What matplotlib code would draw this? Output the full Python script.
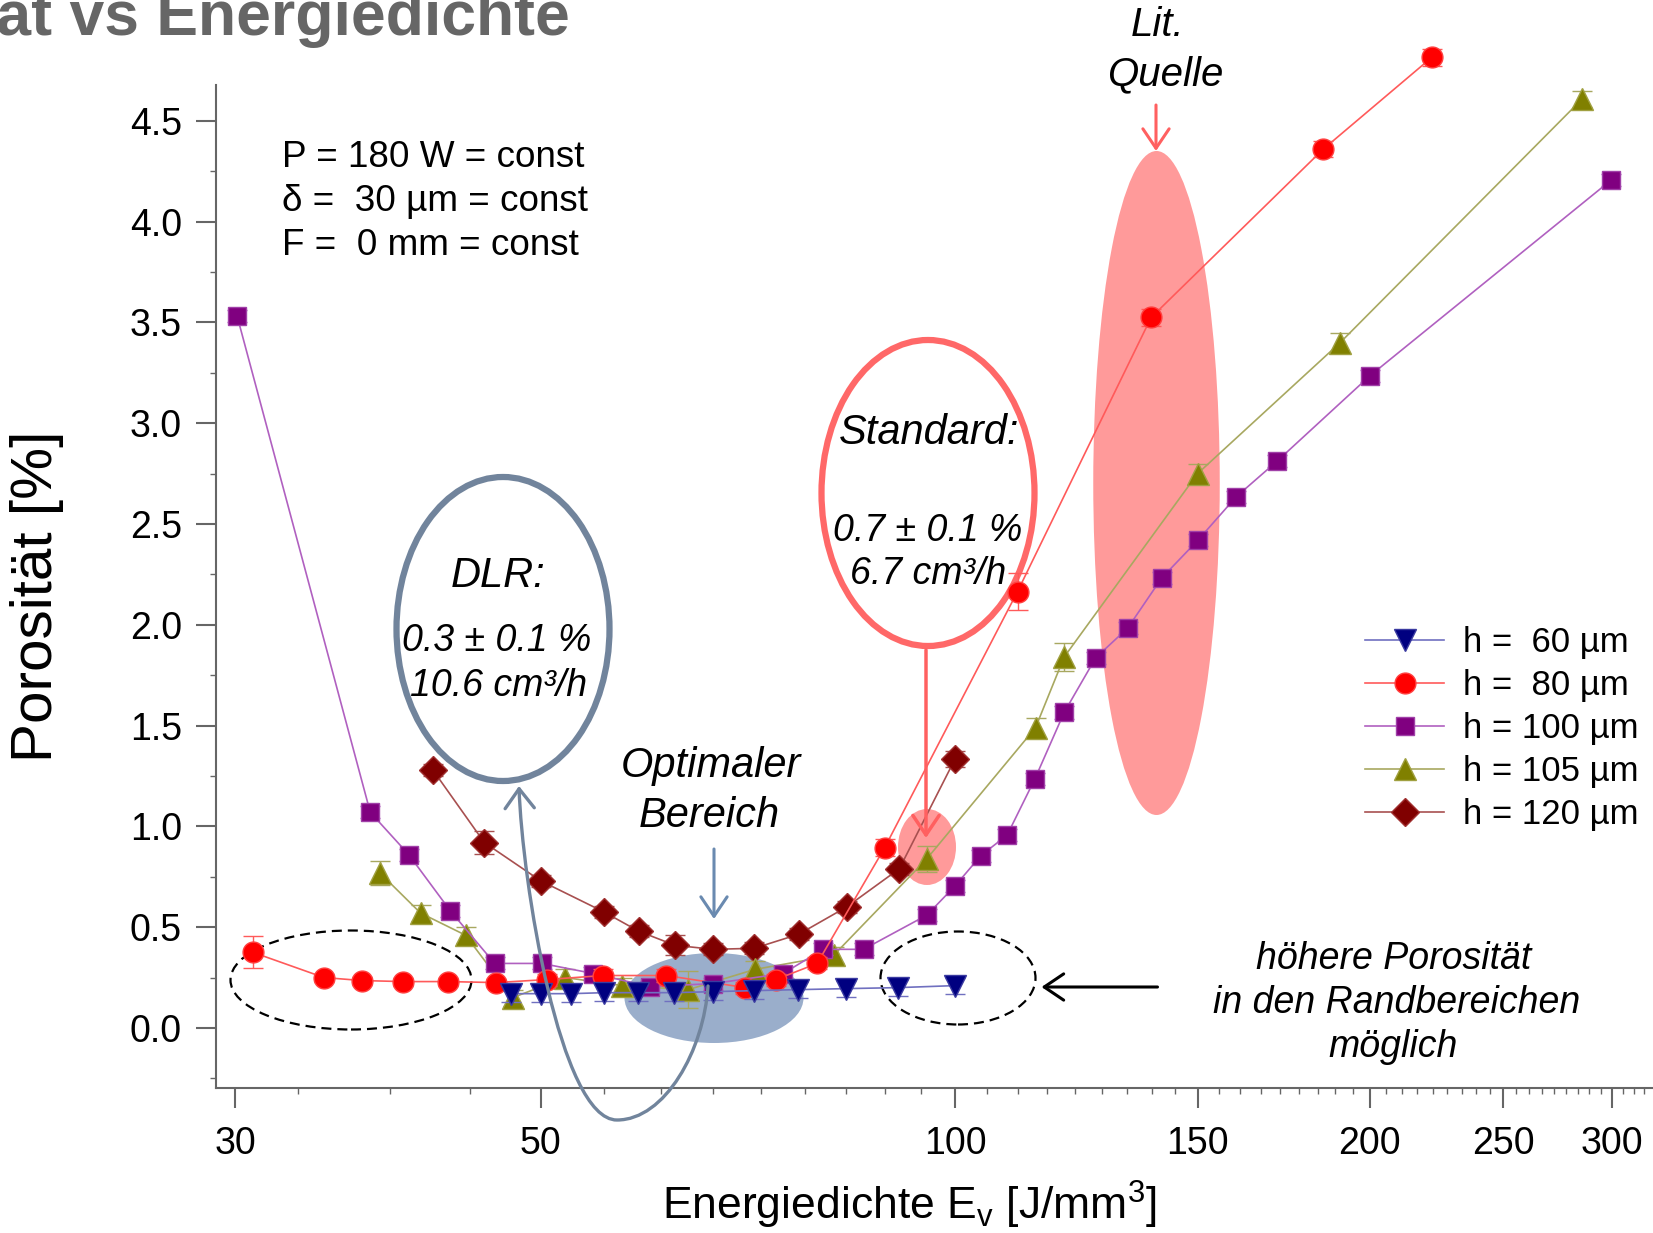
import numpy as np
import matplotlib
matplotlib.use('Agg')
import matplotlib.pyplot as plt
from matplotlib.patches import Ellipse, FancyArrowPatch
from matplotlib.path import Path
from matplotlib.ticker import FixedLocator, FixedFormatter, NullFormatter

FIG_W, FIG_H = 1653, 1233

# Energiedichte [J/mm^3] und Porositaet [%] je Spurabstand h
h60_E = [47.6, 50.0, 52.6, 55.6, 58.8, 62.5, 66.7, 71.4, 76.9, 83.3, 90.9, 100.0]
h60_P = [0.17, 0.17, 0.17, 0.175, 0.175, 0.175, 0.18, 0.185, 0.19, 0.195, 0.20, 0.21]
h60_err = [0.04] * 12

h80_E = [30.9, 34.8, 37.1, 39.7, 42.8, 46.4, 50.5, 55.5, 61.7, 70.4, 74.1, 79.4,
         88.9, 111.0, 138.8, 185.1, 221.9]
h80_P = [0.375, 0.25, 0.235, 0.23, 0.23, 0.225, 0.24, 0.26, 0.26, 0.20, 0.24, 0.32,
         0.895, 2.165, 3.525, 4.36, 4.815]
h80_err = [0.08, 0.02, 0.02, 0.02, 0.02, 0.02, 0.03, 0.03, 0.03, 0.03, 0.03, 0.03,
           0.04, 0.09, 0.04, 0.04, 0.04]

h100_E = [30.1, 37.6, 40.1, 43.0, 46.3, 50.1, 54.6, 60.0, 66.7, 75.0, 80.2, 85.8,
          95.4, 100.0, 104.4, 109.1, 114.3, 120.0, 126.5, 133.5, 141.3, 150.1,
          160.0, 171.4, 200.0, 299.5]
h100_P = [3.53, 1.07, 0.86, 0.58, 0.32, 0.32, 0.27, 0.205, 0.22, 0.27, 0.39, 0.39,
          0.56, 0.705, 0.855, 0.957, 1.237, 1.565, 1.836, 1.985, 2.233, 2.42,
          2.635, 2.813, 3.234, 4.206]
h100_err = [0.03] * 26

h105_E = [38.2, 40.9, 44.1, 47.7, 52.1, 57.3, 64.0, 71.5, 81.6, 95.4, 114.4, 120.0,
          150.0, 190.4, 285.5]
h105_P = [0.77, 0.57, 0.46, 0.15, 0.25, 0.21, 0.19, 0.29, 0.36, 0.84, 1.49, 1.84,
          2.75, 3.40, 4.61]
h105_err = [0.06, 0.04, 0.04, 0.04, 0.04, 0.04, 0.09, 0.04, 0.04, 0.065, 0.05, 0.07,
            0.05, 0.05, 0.04]

h120_E = [41.75, 45.5, 50.0, 55.6, 58.9, 62.6, 66.7, 71.45, 77.0, 83.4, 91.1, 100.0]
h120_P = [1.28, 0.92, 0.73, 0.575, 0.48, 0.41, 0.39, 0.395, 0.465, 0.60, 0.79, 1.335]
h120_err = [0.03, 0.055, 0.03, 0.03, 0.03, 0.05, 0.03, 0.03, 0.03, 0.03, 0.03, 0.04]

labels = ['h =  60 µm', 'h =  80 µm', 'h = 100 µm', 'h = 105 µm', 'h = 120 µm']
x_ticks = [30, 50, 100, 150, 200, 250, 300]
y_ticks = [0.0, 0.5, 1.0, 1.5, 2.0, 2.5, 3.0, 3.5, 4.0, 4.5]


def fxy(x, y):
    # Pixelposition im Bild -> Figure-Koordinaten
    return (x / FIG_W, 1 - y / FIG_H)


def add_ellipse(ax, fig, cx, cy, w, h, **kw):
    e = Ellipse(fxy(cx, cy), w / FIG_W, h / FIG_H, transform=fig.transFigure, **kw)
    ax.add_patch(e)


def add_arrow(ax, fig, p0, p1, color, lw, scale):
    a = FancyArrowPatch(fxy(*p0), fxy(*p1), transform=fig.transFigure,
                        arrowstyle='->,head_length=0.4,head_width=0.27',
                        mutation_scale=scale, color=color, lw=lw,
                        shrinkA=0, shrinkB=0, clip_on=False, zorder=9)
    ax.add_patch(a)


def note(fig, x, y, s, size, style='italic', ha='center'):
    fig.text(x / FIG_W, 1 - y / FIG_H, s, fontsize=size, style=style,
             ha=ha, va='baseline')


def plot_series(ax):
    series = [
        (h60_E, h60_P, h60_err, 'v', 16, '#000080', '#3a3aa0', '#7070c0', 7),
        (h80_E, h80_P, h80_err, 'o', 15, '#ff0000', '#ff4040', '#ff5a5a', 6),
        (h100_E, h100_P, h100_err, 's', 13.5, '#800080', '#a040a8', '#b060c0', 5),
        (h105_E, h105_P, h105_err, '^', 16, '#808000', '#a0a040', '#a8a860', 4),
        (h120_E, h120_P, h120_err, 'D', 14, '#800000', '#a03030', '#a85050', 3),
    ]
    for (E, P, err, m, ms, fc, ec, lc, z), lab in zip(series, labels):
        ax.errorbar(E, P, yerr=err, fmt='none', ecolor=lc, elinewidth=1,
                    capsize=7, capthick=1, zorder=z)
        ax.plot(E, P, marker=m, ms=ms, mfc=fc, mec=ec, mew=1, color=lc,
                lw=1.2, label=lab, zorder=z)


def main():
    plt.rcParams['font.family'] = ['Liberation Sans', 'DejaVu Sans']
    plt.rcParams['mathtext.fontset'] = 'custom'
    plt.rcParams['mathtext.rm'] = 'Liberation Sans'
    plt.rcParams['mathtext.it'] = 'Liberation Sans:italic'

    fig = plt.figure(figsize=(16.53, 12.33), dpi=100)
    ax = fig.add_axes([216 / FIG_W, 1 - 1088.4 / FIG_H, 1437 / FIG_W, 1088.4 / FIG_H])

    plot_series(ax)

    ax.set_xscale('log')
    ax.set_xlim(29.05, 321.3)
    ax.set_ylim(-0.3, 5.1)
    ax.spines['top'].set_visible(False)
    ax.spines['right'].set_visible(False)
    ax.spines['left'].set_bounds(-0.3, 4.68)
    for s in ['left', 'bottom']:
        ax.spines[s].set_color('#666666')
        ax.spines[s].set_linewidth(1.5)

    ax.xaxis.set_major_locator(FixedLocator(x_ticks))
    ax.xaxis.set_major_formatter(FixedFormatter([str(t) for t in x_ticks]))
    minors = [v for v in np.arange(0, 330, 50 / 9) if v > 29.5 and abs(v / 50 - round(v / 50)) > 0.01]
    ax.xaxis.set_minor_locator(FixedLocator(minors))
    ax.xaxis.set_minor_formatter(NullFormatter())
    ax.yaxis.set_major_locator(FixedLocator(y_ticks))
    ax.yaxis.set_major_formatter(FixedFormatter(['%.1f' % t for t in y_ticks]))
    ax.yaxis.set_minor_locator(FixedLocator(np.arange(-0.25, 4.3, 0.5)))
    ax.tick_params(which='major', length=14.4, width=1.5, color='#666666',
                   labelsize=27, labelcolor='black')
    ax.tick_params(axis='x', which='major', pad=13)
    ax.tick_params(axis='y', which='major', pad=10)
    ax.tick_params(which='minor', length=4, width=1, color='#666666')

    ax.set_xlabel(r'Energiedichte E$_\mathrm{v}$ [J/mm$^\mathrm{3}$]', fontsize=32, va='center')
    ax.xaxis.set_label_coords(0.4823, -0.107)
    ax.set_ylabel('Porosität [%]', fontsize=42, va='center')
    ax.yaxis.set_label_coords(-0.1246, 0.4524)

    # Markierungen
    add_ellipse(ax, fig, 1156.5, 483, 126.5, 664, fc='#ff9a9a', ec='none', zorder=1)
    add_ellipse(ax, fig, 714, 998, 179, 90, fc='#9aaecb', ec='none', zorder=1)
    add_ellipse(ax, fig, 927, 847, 58, 76, fc='#ff9a9a', ec='none', zorder=1)
    add_ellipse(ax, fig, 503, 629, 213, 304, fc='none', ec='#71849c', lw=4.5, zorder=1.5)
    add_ellipse(ax, fig, 928, 493, 213, 306, fc='none', ec='#ff6868', lw=4.5, zorder=1.5)
    add_ellipse(ax, fig, 351, 980, 241, 99, fc='none', ec='black', lw=1.6,
                ls=(0, (4.5, 2.7)), zorder=1.5)
    add_ellipse(ax, fig, 958, 978, 155, 93, fc='none', ec='black', lw=1.6,
                ls=(0, (4.5, 2.7)), zorder=1.5)

    add_arrow(ax, fig, (714, 849), (714, 919), '#6a8ab0', 2.2, 35)
    add_arrow(ax, fig, (926, 650), (926, 838), '#ff6060', 2.5, 35)
    add_arrow(ax, fig, (1156, 105), (1156, 151), '#ff6060', 2.2, 35)
    add_arrow(ax, fig, (1157.5, 987), (1041.5, 987), 'black', 2.2, 35)

    pts = [(708, 986), (704, 1050), (665, 1120), (617, 1120),
           (560, 1120), (522, 880), (519, 786)]
    codes = [Path.MOVETO] + [Path.CURVE4] * 6
    curve = Path([fxy(*p) for p in pts], codes)
    ax.add_patch(FancyArrowPatch(path=curve, transform=fig.transFigure,
                                 arrowstyle='->,head_length=0.4,head_width=0.3',
                                 mutation_scale=35, color='#71849c', lw=2.4,
                                 clip_on=False, zorder=8))

    # Texte
    note(fig, 281.5, 167, 'P = 180 W = const', 26.6, style='normal', ha='left')
    note(fig, 281.5, 211, 'δ =  30 µm = const', 26.6, style='normal', ha='left')
    note(fig, 281.5, 255, 'F =  0 mm = const', 26.6, style='normal', ha='left')
    note(fig, 1157.5, 36, 'Lit.', 29)
    note(fig, 1165, 85, 'Quelle', 29)
    note(fig, 929, 444, 'Standard:', 30)
    note(fig, 928, 541, '0.7 ± 0.1 %', 27)
    note(fig, 928, 584, '6.7 cm³/h', 27)
    note(fig, 498, 587, 'DLR:', 30)
    note(fig, 497, 651, '0.3 ± 0.1 %', 27)
    note(fig, 498.5, 696, '10.6 cm³/h', 27)
    note(fig, 710.5, 777, 'Optimaler', 30)
    note(fig, 709.5, 827, 'Bereich', 30)
    note(fig, 1394, 969, 'höhere Porosität', 27)
    note(fig, 1397, 1013, 'in den Randbereichen', 27)
    note(fig, 1393, 1057, 'möglich', 27)

    # Titel ist im Original links angeschnitten
    fig.text(570 / FIG_W, 1 - 35 / FIG_H, 'Porosität vs Energiedichte', fontsize=45,
             fontweight='bold', color='#666666', ha='right', va='baseline')

    ax.legend(loc='upper left', bbox_to_anchor=fxy(1365, 626),
              bbox_transform=fig.transFigure, frameon=False, fontsize=25,
              borderpad=0, borderaxespad=0, handlelength=2.28,
              handletextpad=0.55, labelspacing=0.29, numpoints=1)

    fig.savefig('out.png', dpi=100)


if __name__ == "__main__":
    main()
